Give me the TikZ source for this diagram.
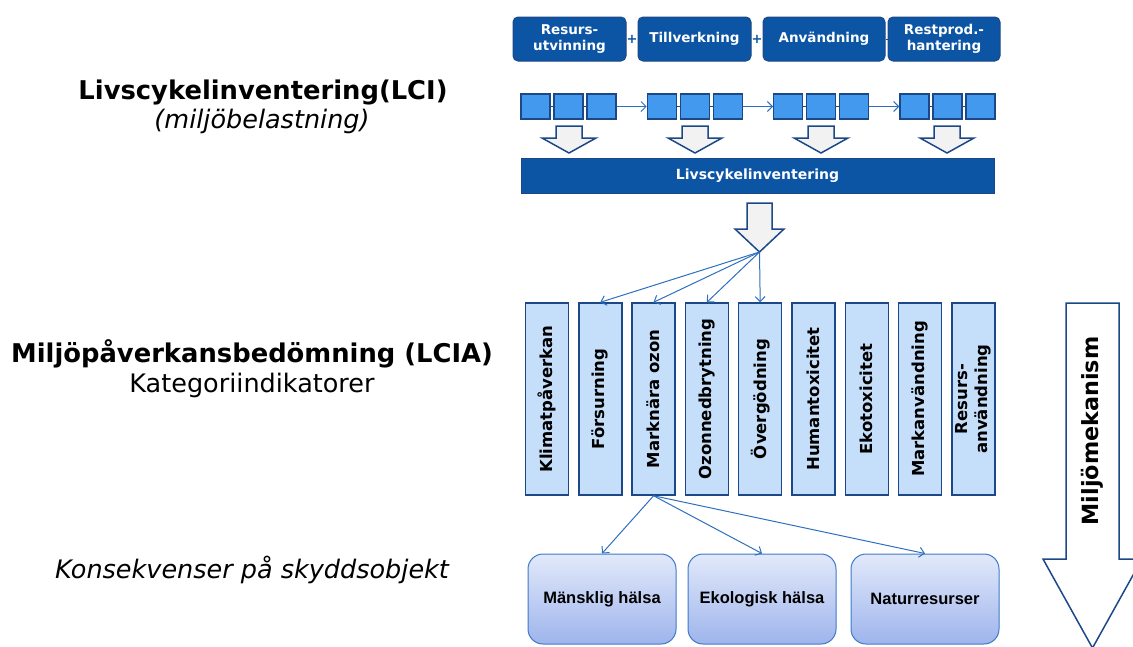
\documentclass[tikz,border=0pt]{standalone}
\usepackage{fontspec}
\setmainfont{DejaVu Sans}
\newfontfamily\arialfont{Liberation Sans}
\usepackage{graphicx}
\usetikzlibrary{positioning,arrows.meta}

\definecolor{darkblue}{RGB}{12,84,164}
\definecolor{edgeblue}{RGB}{28,72,135}
\definecolor{squareblue}{RGB}{66,153,238}
\definecolor{catblue}{RGB}{197,223,250}
\definecolor{linkblue}{RGB}{46,112,190}
\definecolor{hollowgray}{RGB}{242,242,242}
\definecolor{boxtop}{RGB}{226,233,250}
\definecolor{boxbottom}{RGB}{158,180,236}
\definecolor{boxedge}{RGB}{62,122,200}

\begin{document}
\begin{tikzpicture}[x=1pt,y=-1pt, % one unit per pixel, y runs downwards
  >={Straight Barb[length=5pt,width=10pt]},
  phase/.style={draw=edgeblue,fill=darkblue,rounded corners=5pt,line width=1pt,text=white,
    font=\bfseries\fontsize{13.5}{16.5}\selectfont,align=center,minimum height=44pt,inner sep=0pt},
  sq/.style={draw=edgeblue,fill=squareblue,line width=1.2pt,minimum width=29pt,minimum height=25pt,inner sep=0pt},
  hollow/.style={draw=edgeblue,fill=hollowgray,line width=1.5pt},
  cat/.style={draw=edgeblue,fill=catblue,line width=1.5pt,minimum width=43pt,minimum height=192pt,
    inner sep=0pt,font=\bfseries\fontsize{16.5}{19.5}\selectfont},
  link/.style={draw=linkblue,line width=1pt,->},
  effect/.style={draw=boxedge,line width=1pt,rounded corners=15pt,top color=boxtop,bottom color=boxbottom,
    minimum width=148pt,minimum height=90pt,font=\arialfont\bfseries\fontsize{16.5}{20}\selectfont},
  title/.style={anchor=base,font=\bfseries\fontsize{25.8}{30}\selectfont},
  subtitle/.style={anchor=base,font=\fontsize{25.5}{30}\selectfont}]
\useasboundingbox (0,0) rectangle (1133,646);

% left column
\node[title] (lcititle) at (263,99) {Livscykelinventering(LCI)};
\node[subtitle,font=\itshape\fontsize{25.5}{30}\selectfont] (lcisub) at (262,128) {(miljöbelastning)};
\node[title] (lciatitle) at (252,362) {Miljöpåverkansbedömning (LCIA)};
\node[subtitle] (lciasub) at (252,392) {Kategoriindikatorer};
\node[subtitle,font=\itshape\fontsize{25.5}{30}\selectfont] (konsekv) at (252,578) {Konsekvenser på skyddsobjekt};

% life cycle phases
\node[phase,minimum width=113pt] (resurs) at (569.5,39) {Resurs-\\utvinning};
\node[phase,minimum width=113pt] (tillv) at (694.5,39) {Tillverkning};
\node[phase,minimum width=122pt] (anv) at (824,39) {Användning};
\node[phase,minimum width=112pt] (restprod) at (944,39) {Restprod.-\\hantering};
\node[text=darkblue,font=\bfseries\fontsize{13}{16}\selectfont,inner sep=0pt] (plus1) at (632,39) {+};
\node[text=darkblue,font=\bfseries\fontsize{13}{16}\selectfont,inner sep=0pt] (plus2) at (757,39) {+};
\draw[edgeblue] (anv) -- (restprod);

% process chains
\foreach \g in {0,1,2,3}
  \foreach \s in {0,1,2}
    \node[sq] (s\g\s) at (535.5+126.3*\g+33*\s,106.5) {};
\foreach \g in {0,1,2,3}
  \draw[edgeblue] (s\g0) -- (s\g1) -- (s\g2);
\foreach \g/\h in {0/1,1/2,2/3}
  \draw[link] (s\g2) -- (s\h0);

\foreach \x in {569,695,821,947}
  \draw[hollow] (\x-13,126) -- (\x+13,126) -- (\x+13,138) -- (\x+27,138) -- (\x,153)
    -- (\x-27,138) -- (\x-13,138) -- cycle;

\node[draw=edgeblue,fill=darkblue,line width=1pt,minimum width=473pt,minimum height=35pt,inner sep=0pt,
  text=white,font=\bfseries\fontsize{14}{17}\selectfont] (lci) at (757.5,175.5) {Livscykelinventering};

\draw[hollow] (747,203) -- (772,203) -- (772,229) -- (784,229) -- (759.5,252) -- (735,229) -- (747,229) -- cycle;
\coordinate (tip) at (759.5,252);

% impact categories
\foreach \i/\name/\txt in {0/klimat/Klimatpåverkan,1/forsurning/Försurning,2/ozon/Marknära ozon,
    3/ozonned/Ozonnedbrytning,4/overgod/Övergödning,5/human/Humantoxicitet,6/eko/Ekotoxicitet,
    7/mark/Markanvändning,8/resursanv/{\begin{tabular}{@{}c@{}}Resurs-\\användning\end{tabular}}}
  \node[cat] (\name) at (547+53.3*\i,399) {\rotatebox{90}{\txt}};

\foreach \name in {forsurning,ozon,ozonned,overgod}
  \draw[link] (tip) -- (\name.north);

% areas of protection
\node[effect] (manniska) at (602,599) {Mänsklig hälsa};
\node[effect] (ekohalsa) at (762,599) {Ekologisk hälsa};
\node[effect] (natur) at (925,599) {Naturresurser};
\foreach \name in {manniska,ekohalsa,natur}
  \draw[link] (ozon.south) -- (\name.north);

% environmental mechanism
\draw[edgeblue,fill=white,line width=1.5pt] (1066,303) -- (1119,303) -- (1119,559) -- (1142,559)
  -- (1092.5,648) -- (1043,559) -- (1066,559) -- cycle;
\node[rotate=90,font=\bfseries\fontsize{22.3}{26}\selectfont] (mekanism) at (1092.5,431) {Miljömekanism};

\end{tikzpicture}
\end{document}
